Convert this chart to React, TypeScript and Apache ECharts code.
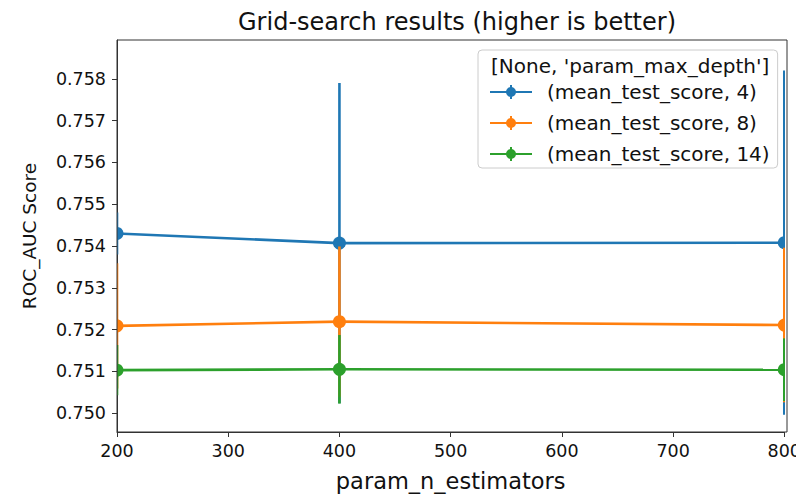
import React, { useEffect, useRef } from "react";
import * as echarts from "echarts";

// n_estimators values on the x axis
const nEstimators = [200, 400, 800];

// mean test score per max_depth, and the half-width of each error bar
const depth4Scores = [0.7543, 0.75407, 0.75408];
const depth4Errors = [0.0005, 0.00383, 0.00412];
const depth8Scores = [0.75209, 0.75219, 0.75211];
const depth8Errors = [0.0015, 0.0018, 0.00185];
const depth14Scores = [0.75103, 0.75105, 0.75104];
const depth14Errors = [0.0006, 0.00082, 0.00075];

const seriesNames = [
  "(mean_test_score, 4)",
  "(mean_test_score, 8)",
  "(mean_test_score, 14)",
];
const seriesColors = ["#1f77b4", "#ff7f0e", "#2ca02c"];

const yTickValues = [0.75, 0.751, 0.752, 0.753, 0.754, 0.755, 0.756, 0.757, 0.758];
const xTicks = [200, 300, 400, 500, 600, 700, 800];

const FONT = "DejaVu Sans";

// legend glyph: horizontal line, vertical error bar and a round marker
const LEGEND_ICON =
  "path://M0 7H42V9H0Z M20 1H22V15H20Z M26 8A5 5 0 1 1 16 8A5 5 0 1 1 26 8Z";

const GRID = { left: 117, right: 17, top: 40, bottom: 66 };

function makeSeries(name: string, color: string, scores: number[], errors: number[]) {
  const data = nEstimators.map((x, i) => [x, scores[i], errors[i]]);
  return {
    type: "custom",
    name,
    clip: true,
    itemStyle: { color },
    data,
    encode: { x: 0, y: 1 },
    renderItem: (params: any, api: any) => {
      const i = params.dataIndex;
      const x = api.value(0);
      const y = api.value(1);
      const e = api.value(2);
      const p = api.coord([x, y]);
      const top = api.coord([x, y + e]);
      const bot = api.coord([x, y - e]);
      const children: any[] = [];
      if (i < nEstimators.length - 1) {
        const q = api.coord([nEstimators[i + 1], scores[i + 1]]);
        children.push({
          type: "line",
          shape: { x1: p[0], y1: p[1], x2: q[0], y2: q[1] },
          style: { stroke: color, lineWidth: 2.6 },
        });
      }
      children.push({
        type: "line",
        shape: { x1: top[0], y1: top[1], x2: bot[0], y2: bot[1] },
        style: { stroke: color, lineWidth: 2.6 },
      });
      children.push({
        type: "circle",
        shape: { cx: p[0], cy: p[1], r: 6.5 },
        style: { fill: color },
      });
      return { type: "group", children };
    },
  };
}

export default function App() {
  const ref = useRef<HTMLDivElement>(null);

  useEffect(() => {
    if (!ref.current) return;
    const chart = echarts.init(ref.current, null, { renderer: "svg" });
    const plotW = 804 - GRID.left - GRID.right;
    const plotH = 498 - GRID.top - GRID.bottom;

    chart.setOption({
      animation: false,
      backgroundColor: "#ffffff",
      title: {
        text: "Grid-search results (higher is better)",
        left: GRID.left + plotW / 2,
        textAlign: "center",
        top: 5,
        textStyle: { fontFamily: FONT, fontSize: 24, fontWeight: "normal", color: "#111" },
      },
      grid: { ...GRID, containLabel: false },
      legend: {
        orient: "vertical",
        left: 478,
        top: 50,
        width: 300,
        padding: [32, 8, 4, 12],
        itemWidth: 42,
        itemHeight: 16,
        itemGap: 11,
        backgroundColor: "rgba(255,255,255,0.85)",
        borderColor: "#cccccc",
        borderWidth: 1,
        borderRadius: 4,
        data: seriesNames.map((n) => ({ name: n, icon: LEGEND_ICON })),
        textStyle: {
          fontFamily: FONT,
          fontSize: 20,
          lineHeight: 20,
          color: "#111",
          padding: [0, 0, 0, 10],
        },
      },
      xAxis: {
        type: "value",
        min: 200,
        max: 800,
        interval: 100,
        name: "param_n_estimators",
        nameLocation: "middle",
        nameGap: 37,
        nameTextStyle: { fontFamily: FONT, fontSize: 22.5, color: "#111" },
        axisLine: { show: true, lineStyle: { color: "#333", width: 1 } },
        axisTick: { show: true, inside: false, length: 5, lineStyle: { color: "#333" } },
        axisLabel: {
          fontFamily: FONT,
          fontSize: 17.5,
          color: "#111",
          margin: 10,
          customValues: xTicks,
        },
        splitLine: { show: false },
      },
      yAxis: {
        type: "value",
        min: 0.74955,
        max: 0.75893,
        name: "ROC_AUC Score",
        nameLocation: "middle",
        nameGap: 78,
        nameTextStyle: { fontFamily: FONT, fontSize: 18.5, color: "#111" },
        axisLine: { show: true, lineStyle: { color: "#333", width: 1 } },
        axisTick: {
          show: true,
          inside: false,
          length: 5,
          lineStyle: { color: "#333" },
          customValues: yTickValues,
        },
        axisLabel: {
          fontFamily: FONT,
          fontSize: 17.5,
          color: "#111",
          margin: 11,
          customValues: yTickValues,
          formatter: (v: number) => v.toFixed(3),
        },
        splitLine: { show: false },
      },
      graphic: [
        {
          type: "rect",
          z: 100,
          silent: true,
          shape: { x: GRID.left, y: GRID.top, width: plotW, height: plotH },
          style: { fill: "none", stroke: "#333", lineWidth: 1 },
        },
        {
          type: "text",
          z: 100,
          x: 491,
          y: 66,
          style: {
            text: "[None, 'param_max_depth']",
            fontFamily: FONT,
            fontSize: 20,
            fill: "#111",
            verticalAlign: "middle",
          },
        },
      ],
      series: [
        makeSeries(seriesNames[0], seriesColors[0], depth4Scores, depth4Errors),
        makeSeries(seriesNames[1], seriesColors[1], depth8Scores, depth8Errors),
        makeSeries(seriesNames[2], seriesColors[2], depth14Scores, depth14Errors),
      ],
    });

    return () => chart.dispose();
  }, []);

  return <div ref={ref} style={{ width: 804, height: 498, marginLeft: -8, marginTop: -8 }} />;
}
